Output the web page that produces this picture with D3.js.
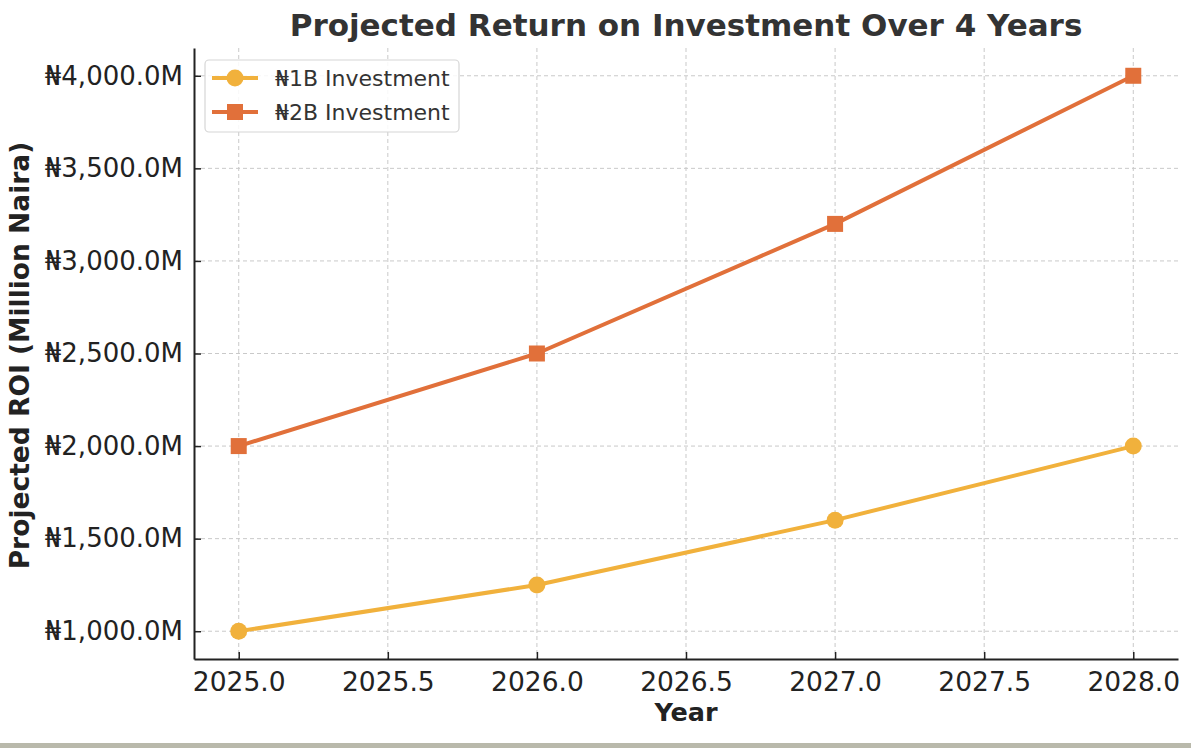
<!DOCTYPE html>
<html><head><meta charset="utf-8">
<script src="https://cdn.jsdelivr.net/npm/d3@7"></script>
<style>
html,body{margin:0;padding:0;background:#fff;}
svg{display:block;font-family:"DejaVu Sans",sans-serif;}
</style></head><body>
<svg id="c" width="1191" height="748"></svg>
<script>
const years = [2025, 2026, 2027, 2028];
const roi1B = [1000, 1250, 1600, 2000];
const roi2B = [2000, 2500, 3200, 4000];
const seriesNames = ["₦1B Investment", "₦2B Investment"];
const xTicks = [2025.0, 2025.5, 2026.0, 2026.5, 2027.0, 2027.5, 2028.0];
const yTicks = [1000, 1500, 2000, 2500, 3000, 3500, 4000];

const colors = ["#F1B13C", "#E1703A"];
const svg = d3.select("#c");
const W = 1191, H = 748;
const m = {left:194, right:1178, top:48, bottom:659};

svg.append("rect").attr("x",0).attr("y",743).attr("width",W).attr("height",5).attr("fill","#b9b9ab");

const x = d3.scaleLinear().domain([2024.85, 2028.15]).range([m.left, m.right]);
const y = d3.scaleLinear().domain([850, 4150]).range([m.bottom, m.top]);

// grid
const grid = svg.append("g").attr("stroke","#c9c9c9").attr("stroke-width",1).attr("stroke-dasharray","4,3");
grid.selectAll(".vx").data(xTicks).join("line")
  .attr("x1",d=>x(d)).attr("x2",d=>x(d)).attr("y1",m.top).attr("y2",m.bottom);
grid.selectAll(".hy").data(yTicks).join("line")
  .attr("y1",d=>y(d)).attr("y2",d=>y(d)).attr("x1",m.left).attr("x2",m.right);

// axes
const xAxis = d3.axisBottom(x).tickValues(xTicks).tickFormat(d3.format(".1f")).tickSizeInner(-7).tickSizeOuter(0).tickPadding(13);
const gx = svg.append("g").attr("transform",`translate(0,${m.bottom})`).call(xAxis);
gx.select(".domain").attr("stroke","#222").attr("stroke-width",2);
gx.selectAll(".tick line").attr("stroke","#222").attr("stroke-width",1.5);
gx.selectAll(".tick text").attr("font-size",26.5).attr("fill","#222").attr("font-family","DejaVu Sans");

const fmtY = d => "₦" + d3.format(",.1f")(d) + "M";
const yAxis = d3.axisLeft(y).tickValues(yTicks).tickFormat(fmtY).tickSizeInner(-7).tickSizeOuter(0).tickPadding(11);
const gy = svg.append("g").attr("transform",`translate(${m.left},0)`).call(yAxis);
gy.select(".domain").attr("stroke","#222").attr("stroke-width",2);
gy.selectAll(".tick line").attr("stroke","#222").attr("stroke-width",1.5);
gy.selectAll(".tick text").attr("font-size",26).attr("fill","#222").attr("font-family","DejaVu Sans");

// lines
const data = [roi1B, roi2B];
const line = d3.line().x((d,i)=>x(years[i])).y(d=>y(d));
data.forEach((vals,k)=>{
  svg.append("path").datum(vals).attr("d",line).attr("fill","none")
    .attr("stroke",colors[k]).attr("stroke-width",4).attr("stroke-linejoin","round");
});
svg.selectAll(".c1").data(roi1B).join("circle")
  .attr("cx",(d,i)=>x(years[i])).attr("cy",d=>y(d)).attr("r",8.5).attr("fill",colors[0]);
svg.selectAll(".s2").data(roi2B).join("rect")
  .attr("x",(d,i)=>x(years[i])-8).attr("y",d=>y(d)-8).attr("width",16).attr("height",16).attr("fill",colors[1]);

// titles
svg.append("text").attr("x",(m.left+m.right)/2).attr("y",36).attr("text-anchor","middle")
  .attr("font-size",31).attr("font-weight","bold").attr("fill","#333").text("Projected Return on Investment Over 4 Years");
svg.append("text").attr("x",(m.left+m.right)/2).attr("y",721).attr("text-anchor","middle")
  .attr("font-size",25.5).attr("font-weight","bold").attr("fill","#222").text("Year");
svg.append("text").attr("transform",`translate(29,${(m.top+m.bottom)/2+2}) rotate(-90)`).attr("text-anchor","middle")
  .attr("font-size",26.5).attr("font-weight","bold").attr("fill","#222").text("Projected ROI (Million Naira)");

// legend
const lg = svg.append("g");
lg.append("rect").attr("x",205).attr("y",60).attr("width",254).attr("height",72).attr("rx",4)
  .attr("fill","#fff").attr("fill-opacity",0.85).attr("stroke","#d6d6d6").attr("stroke-width",1.2);
seriesNames.forEach((name,k)=>{
  const cy = 78 + k*34;
  lg.append("line").attr("x1",212).attr("x2",258).attr("y1",cy).attr("y2",cy).attr("stroke",colors[k]).attr("stroke-width",4);
  if(k===0) lg.append("circle").attr("cx",235).attr("cy",cy).attr("r",8.5).attr("fill",colors[k]);
  else lg.append("rect").attr("x",227).attr("y",cy-8).attr("width",16).attr("height",16).attr("fill",colors[k]);
  lg.append("text").attr("x",275).attr("y",cy+8).attr("font-size",22).attr("fill","#333").text(name);
});
</script></body></html>
